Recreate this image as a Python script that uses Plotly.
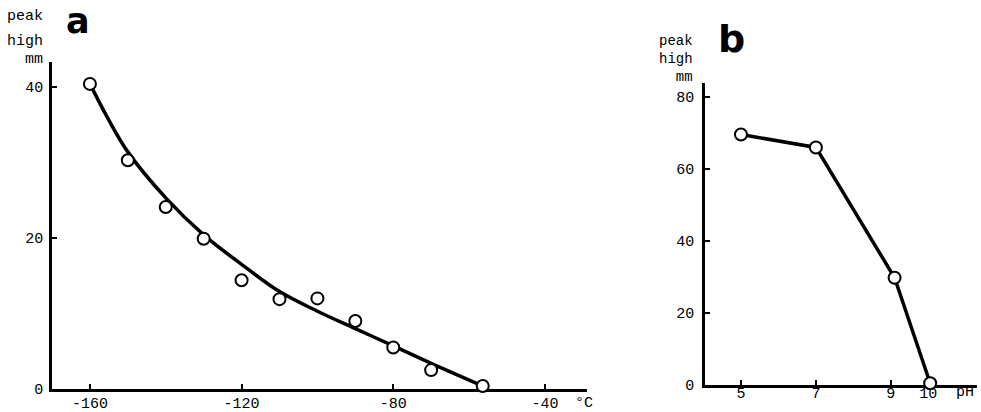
import plotly.graph_objects as go

W, H = 981, 412

# ---- Panel a: peak height vs temperature ----
temp_c = [-160, -150, -140, -130, -120, -110, -100, -90, -80, -70, -56.4]
peak_a = [40.4, 30.3, 24.1, 19.9, 14.4, 11.9, 12.0, 9.0, 5.5, 2.5, 0.4]
# fitted smooth curve
curve_x = [-160, -155, -150, -140, -130, -120, -110, -100, -90, -80, -70, -56.4]
curve_y = [40.4, 35.6, 31.4, 25.3, 20.4, 16.5, 12.9, 10.3, 8.0, 5.7, 3.4, 0.4]
a_xticks = [-160, -120, -80, -40]
a_xtext = ["-160", "-120", "-80", "-40"]
a_yticks = [0, 20, 40]

# ---- Panel b: peak height vs pH ----
ph = [5, 7, 9.1, 10.05]
peak_b = [69.6, 66.0, 29.8, 0.5]
b_xticks = [5, 7, 9, 10]
b_yticks = [0, 20, 40, 60, 80]

MONO = "Liberation Mono"

fig = go.Figure()
fig.add_trace(go.Scatter(x=curve_x, y=curve_y, mode="lines",
                         line=dict(color="black", width=3.5, shape="spline", smoothing=1),
                         xaxis="x", yaxis="y", cliponaxis=False, hoverinfo="skip"))
fig.add_trace(go.Scatter(x=temp_c, y=peak_a, mode="markers",
                         marker=dict(symbol="circle", size=12, color="white",
                                     line=dict(color="black", width=2)),
                         xaxis="x", yaxis="y", cliponaxis=False))
fig.add_trace(go.Scatter(x=ph, y=peak_b, mode="lines+markers",
                         line=dict(color="black", width=3.5),
                         marker=dict(symbol="circle", size=12, color="white",
                                     line=dict(color="black", width=2)),
                         xaxis="x2", yaxis="y2", cliponaxis=False))

def px(x):
    return x / W

def py(y):
    return 1 - y / H

axis_common = dict(showline=True, linecolor="black", linewidth=2.5, showgrid=False,
                   zeroline=False, ticks="inside", ticklen=5, tickwidth=2,
                   tickcolor="black", layer="below traces", automargin=False,
                   tickfont=dict(family=MONO, size=15, color="black"))

fig.update_layout(
    width=W, height=H, margin=dict(l=0, r=0, t=0, b=0, autoexpand=False),
    paper_bgcolor="white", plot_bgcolor="white", showlegend=False,
    xaxis=dict(domain=[px(52), px(587)], range=[-170, -28.9], anchor="y",
               tickmode="array", tickvals=a_xticks, ticktext=a_xtext,
               ticklabelstandoff=-2, **axis_common),
    yaxis=dict(domain=[py(389), py(62)], range=[0, 43.3], anchor="x",
               tickmode="array", tickvals=a_yticks,
               ticklabelstandoff=3, **axis_common),
    xaxis2=dict(domain=[px(705), px(977)], range=[4.04, 11.3], anchor="y2",
                tickmode="array", tickvals=b_xticks,
                ticklabelstandoff=-8, **axis_common),
    yaxis2=dict(domain=[py(385), py(83)], range=[0, 83.9], anchor="x2",
                tickmode="array", tickvals=b_yticks,
                ticklabelstandoff=5, **axis_common),
)

def label(text, x, y, size=15, xanchor="right", family=MONO, bold=False, align="right",
          borderpad=1):
    fig.add_annotation(text=("<b>%s</b>" % text) if bold else text,
                       x=px(x), y=py(y), xref="paper", yref="paper",
                       xanchor=xanchor, yanchor="middle", showarrow=False,
                       align=align, borderpad=borderpad, borderwidth=0,
                       font=dict(family=family, size=size, color="black"))

# panel a labels
label("peak", 44, 17)
label("high", 44, 42)
label("mm", 44, 59)
label("a", 78, 21, size=35, xanchor="center", family="DejaVu Sans", bold=True, borderpad=0)
label("°C", 594, 403, size=15, xanchor="right")

# panel b labels
label("peak<br>high<br>mm", 694, 59, size=14)
label("b", 731, 39, size=38, xanchor="center", family="DejaVu Sans", bold=True)
label("pH", 975, 392, size=15, xanchor="right")

fig.write_html("out.html")
